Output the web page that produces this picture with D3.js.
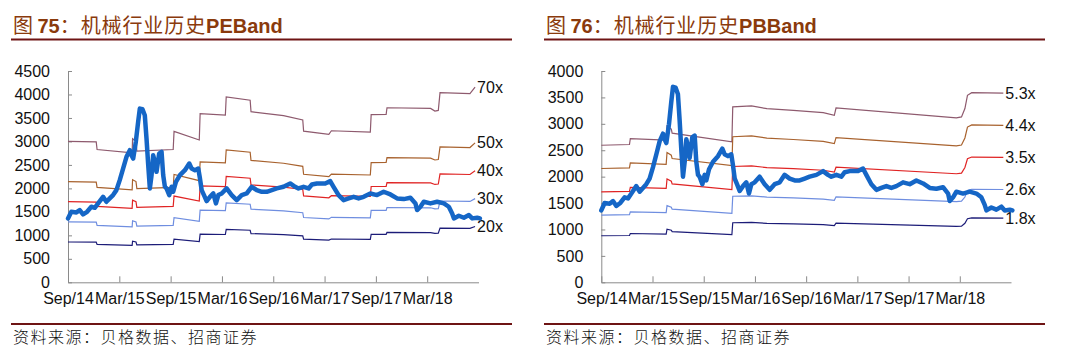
<!DOCTYPE html>
<html><head><meta charset="utf-8">
<script src="https://cdn.jsdelivr.net/npm/d3@7/dist/d3.min.js"></script>
<style>
html,body{margin:0;padding:0;background:#fff;}
svg{display:block;}
</style></head>
<body>
<svg id="c" width="1066" height="358"></svg>
<script>
// ---------- data ----------
const xTickLabels = ["Sep/14","Mar/15","Sep/15","Mar/16","Sep/16","Mar/17","Sep/17","Mar/18"];
const xTickMonths = [0,6,12,18,24,30,36,42];

// industry index (months since Sep 2014)
const indexMonths = [0,0.39,0.98,1.37,1.76,2.23,2.73,3.13,3.52,4.10,4.49,4.88,5.27,5.66,6.05,6.45,6.84,7.23,7.42,7.62,7.93,8.20,8.40,8.71,8.98,9.18,9.38,9.57,9.77,9.96,10.16,10.35,10.66,10.94,11.13,11.33,11.52,11.84,12.11,12.30,12.62,13.09,13.67,14.18,14.45,14.84,15.23,15.43,15.63,15.90,16.21,16.60,16.99,17.30,17.58,17.97,18.55,19.14,19.73,20.31,20.90,21.48,22.07,22.66,23.24,23.83,24.41,25.20,25.98,26.56,26.95,27.54,28.13,28.52,29.10,30.08,30.66,31.05,31.64,32.23,32.81,33.40,33.98,34.57,35.35,36.13,36.91,37.70,38.48,39.26,40.04,40.63,40.82,41.21,41.60,42.38,43.16,43.95,44.53,44.92,45.12,45.70,46.29,46.88,47.27,47.85,48.16];
const indexValues = [1361,1502,1488,1538,1446,1502,1609,1587,1680,1821,1715,1786,1857,1963,2176,2424,2672,2813,2707,2636,2991,3416,3700,3685,3558,3062,2495,1999,2282,2707,2565,2353,2743,2778,2282,2034,1999,1857,2034,1928,2140,2282,2388,2530,2424,2388,2424,2211,1963,1857,1730,1821,1892,1680,1857,1892,1999,1857,1750,1857,1892,2034,1963,1928,1928,1963,1999,2034,2105,2034,1999,2034,1999,2084,2105,2105,2154,2034,1857,1750,1786,1821,1786,1821,1892,1857,1928,1871,1786,1772,1800,1680,1538,1609,1715,1680,1715,1680,1609,1467,1361,1417,1375,1432,1361,1375,1361];

// PE band: implied earnings base (index / PE)
const peBaseMonths = [0,3.3,3.4,7.5,7.55,7.95,8.05,12.3,12.4,15.35,15.45,18.4,18.5,21.3,21.4,25.2,27.45,27.55,30.5,30.8,35.35,35.45,37.2,37.3,42.4,42.9,43.3,43.5,47.0,47.6];
const peBaseValues = [42.9,42.7,40.4,39.4,43.7,42.9,39.9,40.4,45.9,43.3,51.3,50.9,56.4,55.4,51.9,50.7,49.4,46.0,45.0,46.1,45.7,51.0,51.1,53.1,52.9,52.1,52.3,57.7,57.4,59.4];
const peMultiples = [70,50,40,30,20];
const peLabels = ["70x","50x","40x","30x","20x"];

// PB band: implied book value base (index / PB)
const pbBaseMonths = [0,3.3,3.4,7.6,7.7,8.2,8.3,15.3,15.4,17.6,19.4,22.5,26.0,27.3,27.5,41.6,42.2,42.6,42.9,43.4,47.1];
const pbBaseValues = [489.6,492.1,513.4,507.5,558.5,547,532.5,502,626.4,629.8,620.4,614.3,606,596.6,622.6,587.2,590.6,620.8,668,677.4,675.5];
const pbMultiples = [5.3,4.4,3.5,2.6,1.8];
const pbLabels = ["5.3x","4.4x","3.5x","2.6x","1.8x"];

const bandColors = ["#8e5a6e","#a8622e","#e02424","#6f8ee0","#1c1c78"];
const indexColor = "#1566c6";

// ---------- drawing ----------
const svg = d3.select("#c");
const latin = "'Liberation Sans', Arial, sans-serif";
const cjk = "'Noto Sans CJK SC', sans-serif";

function panel(opt){
  const g = svg.append("g");
  // title
  const t = g.append("text").attr("x", opt.left + 13).attr("y", 33)
    .attr("fill", "#8a3a0c").attr("font-size", 20);
  t.append("tspan").attr("font-family", cjk).text("图 ");
  t.append("tspan").attr("font-family", latin).attr("font-weight", "bold").text(opt.num);
  t.append("tspan").attr("font-family", cjk).attr("letter-spacing", 0.9).text("：机械行业历史");
  t.append("tspan").attr("font-family", latin).attr("font-weight", "bold").text(opt.suffix);
  g.append("line").attr("x1", opt.left + 11).attr("x2", opt.left + 512)
    .attr("y1", 39.5).attr("y2", 39.5).attr("stroke", "#6e1414").attr("stroke-width", 2.2);
  g.append("line").attr("x1", opt.left + 11).attr("x2", opt.left + 512)
    .attr("y1", 324).attr("y2", 324).attr("stroke", "#6e1414").attr("stroke-width", 2.2);
  g.append("text").attr("x", opt.left + 13).attr("y", 343)
    .attr("font-family", cjk).attr("font-size", 16).attr("letter-spacing", 1.5)
    .attr("font-weight", 300).attr("fill", "#111").text("资料来源：贝格数据、招商证券");

  const x = d3.scaleLinear().domain([0, 48]).range([opt.x0, opt.x1]);
  const y = d3.scaleLinear().domain([0, opt.yMax]).range([282.3, 71]);

  // axes
  const ya = g.append("g").attr("transform", `translate(${opt.x0},0)`)
    .call(d3.axisLeft(y).tickValues(d3.range(0, opt.yMax + 1, 500)).tickFormat(d3.format("d"))
      .tickSizeInner(-4).tickSizeOuter(0).tickPadding(18));
  const xa = g.append("g").attr("transform", `translate(0,282.3)`)
    .call(d3.axisBottom(x).tickValues(xTickMonths).tickFormat((d, i) => xTickLabels[i])
      .tickSizeInner(-6).tickSizeOuter(0).tickPadding(10.5));
  [ya, xa].forEach(a => {
    a.selectAll("path,line").attr("stroke", "#8a8a8a");
    a.selectAll("text").attr("font-family", latin).attr("font-size", 16).attr("fill", "#111");
  });

  // bands
  const base = opt.baseMonths.map((m, i) => [m, opt.baseValues[i]]);
  opt.multiples.forEach((k, j) => {
    const pts = base.map(d => [d[0], d[1] * k]);
    g.append("path").datum(pts).attr("fill", "none")
      .attr("stroke", bandColors[j]).attr("stroke-width", 1.2)
      .attr("d", d3.line().x(d => x(d[0])).y(d => y(d[1])));
    const last = pts[pts.length - 1];
    g.append("text").attr("x", x(last[0]) + 2).attr("y", y(last[1]))
      .attr("dy", "0.35em").attr("font-family", latin).attr("font-size", 16)
      .attr("fill", "#111").text(opt.labels[j]);
  });

  // index
  const idx = indexMonths.map((m, i) => [m, indexValues[i]]);
  g.append("path").datum(idx).attr("fill", "none").attr("stroke", indexColor)
    .attr("stroke-width", 4.5).attr("stroke-linejoin", "round").attr("stroke-linecap", "round")
    .attr("d", d3.line().x(d => x(d[0])).y(d => y(d[1])));
}

panel({left: 0, num: "75", suffix: "PEBand", x0: 68, x1: 478.5, yMax: 4500,
  baseMonths: peBaseMonths, baseValues: peBaseValues, multiples: peMultiples, labels: peLabels});
panel({left: 533, num: "76", suffix: "PBBand", x0: 601.3, x1: 1011, yMax: 4000,
  baseMonths: pbBaseMonths, baseValues: pbBaseValues, multiples: pbMultiples, labels: pbLabels});
</script>
</body></html>
